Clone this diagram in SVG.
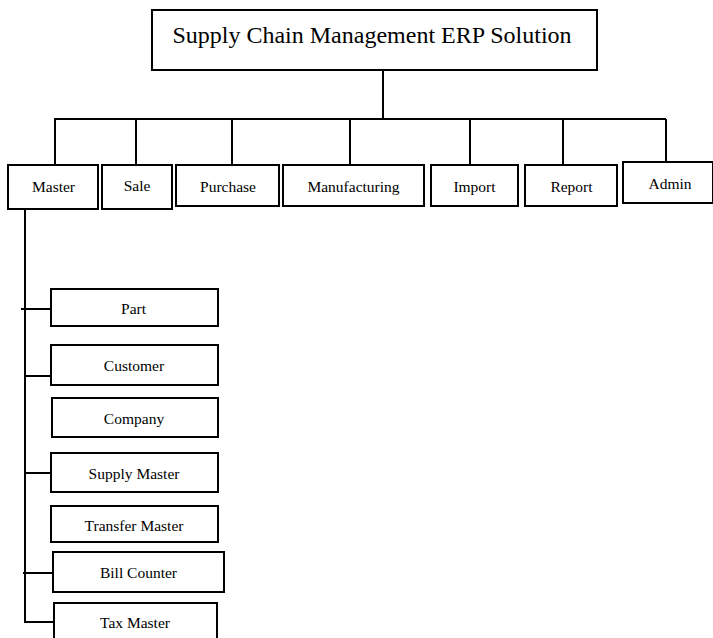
<svg xmlns="http://www.w3.org/2000/svg" width="713" height="638" viewBox="0 0 713 638">
<style>
.box{fill:#fff;stroke:#000;stroke-width:2}
.ln{stroke:#000;stroke-width:2;fill:none}
text{font-family:"Liberation Serif","Times New Roman",serif;fill:#000;text-anchor:middle;font-size:15.5px}
.title{font-size:24px}
</style>
<rect width="713" height="638" fill="#fff"/>
<g id="connectors">
<path class="ln" d="M383,70 V119 M54,119 H666 M55,119 V164 M136,119 V164 M232,119 V164 M350,119 V164 M470,119 V164 M563,119 V164 M666,119 V162"/>
<path class="ln" d="M25,209 V622 H54 M21,309 H51 M25,376 H53 M25,473 H53 M23,573 H53"/>
</g>
<g id="title"><rect class="box" x="152" y="10" width="445" height="60"/><text class="title" x="372" y="43">Supply Chain Management ERP Solution</text></g>
<g id="master"><rect class="box" x="8" y="165" width="90" height="44"/><text x="53.5" y="191.5">Master</text></g>
<g id="sale"><rect class="box" x="102" y="165" width="70" height="44"/><text x="137" y="191">Sale</text></g>
<g id="purchase"><rect class="box" x="176" y="165" width="103" height="41"/><text x="228" y="191.5">Purchase</text></g>
<g id="manufacturing"><rect class="box" x="283" y="165" width="141" height="41"/><text x="353.5" y="191.5">Manufacturing</text></g>
<g id="import"><rect class="box" x="431" y="165" width="87" height="41"/><text x="474.5" y="191.5">Import</text></g>
<g id="report"><rect class="box" x="525" y="165" width="92" height="41"/><text x="571.5" y="191.5">Report</text></g>
<g id="admin"><rect class="box" x="623" y="162" width="90" height="41"/><text x="670" y="188.5">Admin</text></g>
<g id="part"><rect class="box" x="51" y="289" width="167" height="37"/><text x="133.5" y="313.5">Part</text></g>
<g id="customer"><rect class="box" x="51" y="345" width="167" height="40"/><text x="134" y="371">Customer</text></g>
<g id="company"><rect class="box" x="52" y="398" width="166" height="39"/><text x="134" y="424">Company</text></g>
<g id="supply-master"><rect class="box" x="51" y="453" width="167" height="39"/><text x="134" y="478.5">Supply Master</text></g>
<g id="transfer-master"><rect class="box" x="51" y="506" width="167" height="36"/><text x="134" y="530.5">Transfer Master</text></g>
<g id="bill-counter"><rect class="box" x="53" y="552" width="171" height="40"/><text x="138.5" y="577.5">Bill Counter</text></g>
<g id="tax-master"><rect class="box" x="54" y="603" width="163" height="40"/><text x="135" y="627.5">Tax Master</text></g>
</svg>
